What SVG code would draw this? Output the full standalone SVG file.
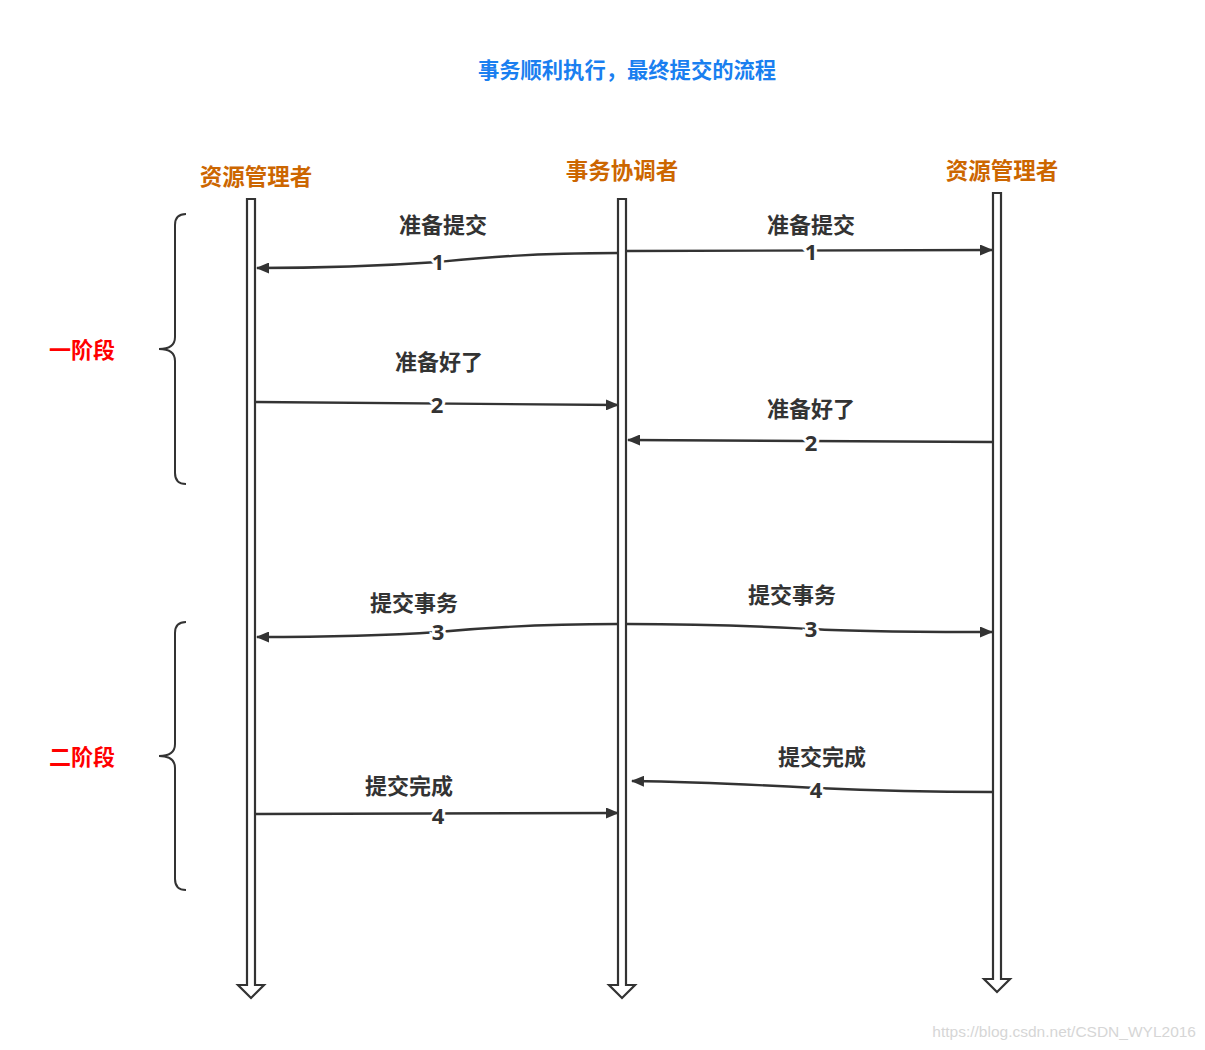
<svg xmlns="http://www.w3.org/2000/svg" width="1205" height="1050" viewBox="0 0 1205 1050">
<style>
.life{fill:#fff;stroke:#333;stroke-width:2.2;stroke-linejoin:miter}
.msg{fill:none;stroke:#333;stroke-width:2.4}
.brace{fill:none;stroke:#333;stroke-width:2}
.hdr{font-family:"Noto Sans CJK SC","Noto Sans",sans-serif;font-weight:bold;font-size:22.5px;fill:#cc6600;text-anchor:middle}
.lbl{font-family:"Noto Sans CJK SC","Noto Sans",sans-serif;font-weight:bold;font-size:22px;fill:#333;text-anchor:middle}
.num{font-family:"Noto Sans","Noto Sans CJK SC",sans-serif;font-weight:bold;font-size:22px;fill:#333;text-anchor:middle;stroke:#fff;stroke-width:6;paint-order:stroke}
.phase{font-family:"Noto Sans CJK SC","Noto Sans",sans-serif;font-weight:bold;font-size:22px;fill:#ff0000;text-anchor:middle}
</style>
<defs>
<marker id="ah" viewBox="0 0 13 11" refX="12" refY="5.5" markerWidth="13" markerHeight="11" markerUnits="userSpaceOnUse" orient="auto">
<path d="M0,0 L13,5.5 L0,11 Z" fill="#333"/>
</marker>
</defs>
<rect width="1205" height="1050" fill="#fff"/>
<text x="627" y="78" font-family="'Noto Sans CJK SC','Noto Sans',sans-serif" font-weight="bold" font-size="21.3" fill="#1a7ff0" text-anchor="middle">事务顺利执行，最终提交的流程</text>

<g id="rm-left">
<path class="life" d="M247,199 L255,199 L255,985 L264,985 L251,998 L238,985 L247,985 Z"/>
<text class="hdr" x="256" y="185">资源管理者</text>
</g>
<g id="coordinator">
<path class="life" d="M618,199 L626,199 L626,985 L635,985 L622,998 L609,985 L618,985 Z"/>
<text class="hdr" x="622" y="179">事务协调者</text>
</g>
<g id="rm-right">
<path class="life" d="M993,193 L1001,193 L1001,979 L1010,979 L997,992 L984,979 L993,979 Z"/>
<text class="hdr" x="1002" y="179">资源管理者</text>
</g>

<g id="phase1">
<path class="brace" d="M186,214 Q175,214 175,225 L175,337 Q175,349 159,349 Q175,349 175,361 L175,473 Q175,484 186,484"/>
<text class="phase" x="82" y="358">一阶段</text>
</g>
<g id="phase2">
<path class="brace" d="M186,622 Q175,622 175,633 L175,744 Q175,756 159,756 Q175,756 175,768 L175,879 Q175,890 186,890"/>
<text class="phase" x="82" y="765">二阶段</text>
</g>

<g id="connectors">
<path class="msg" marker-end="url(#ah)" d="M618,253 C530,253 480,258 438,262 C380,266 320,268 257,268"/>
<path class="msg" marker-end="url(#ah)" d="M627,251 L992,250"/>
<path class="msg" marker-end="url(#ah)" d="M256,402 L618,405"/>
<path class="msg" marker-end="url(#ah)" d="M992,442 L628,440"/>
<path class="msg" marker-end="url(#ah)" d="M618,624 C530,624 480,628 438,632 C380,636 320,637 257,637"/>
<path class="msg" marker-end="url(#ah)" d="M627,624 C720,624 770,627 811,629 C860,632 920,632 992,632"/>
<path class="msg" marker-end="url(#ah)" d="M992,792 C920,792 860,790 816,788 C760,785 700,782 632,781"/>
<path class="msg" marker-end="url(#ah)" d="M256,814 L618,813"/>
</g>

<g id="labels">
<text class="lbl" x="443" y="233">准备提交</text>
<text class="num" x="438" y="270">1</text>
<text class="lbl" x="811" y="233">准备提交</text>
<text class="num" x="811" y="260">1</text>
<text class="lbl" x="439" y="370">准备好了</text>
<text class="num" x="437" y="413">2</text>
<text class="lbl" x="811" y="417">准备好了</text>
<text class="num" x="811" y="451">2</text>
<text class="lbl" x="414" y="611">提交事务</text>
<text class="num" x="438" y="640">3</text>
<text class="lbl" x="792" y="603">提交事务</text>
<text class="num" x="811" y="637">3</text>
<text class="lbl" x="822" y="765">提交完成</text>
<text class="num" x="816" y="798">4</text>
<text class="lbl" x="409" y="794">提交完成</text>
<text class="num" x="438" y="824">4</text>
</g>

<text x="1196" y="1037" font-family="'Liberation Sans',Arial,sans-serif" font-size="15.5" fill="#d6d6d6" text-anchor="end">https://blog.csdn.net/CSDN_WYL2016</text>
</svg>
